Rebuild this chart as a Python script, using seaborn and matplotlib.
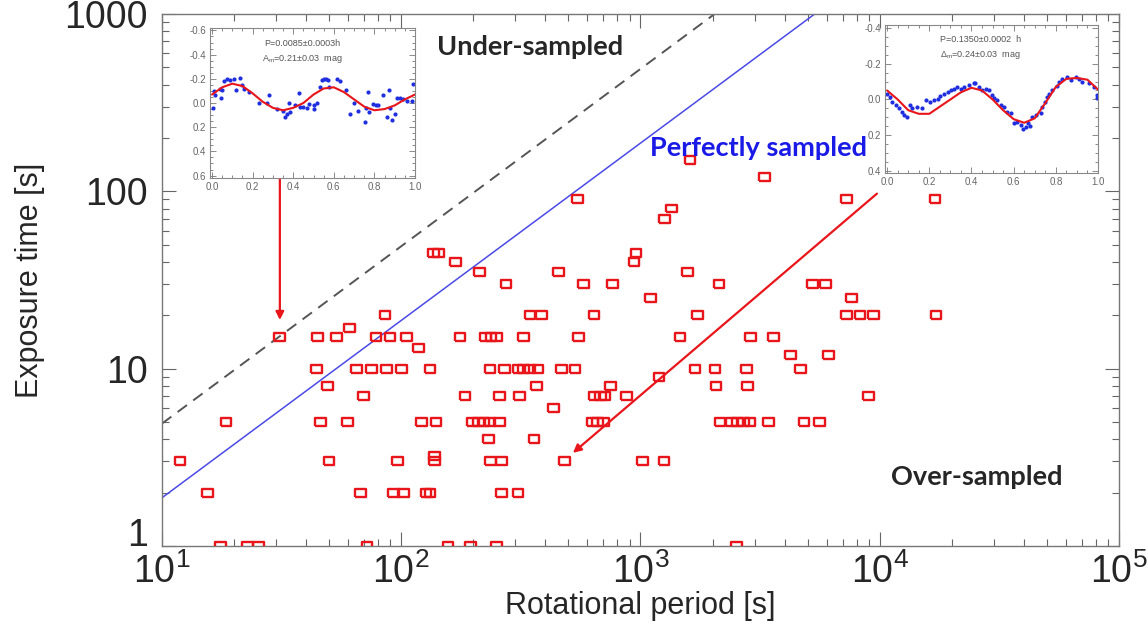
import matplotlib
matplotlib.use("Agg")
import matplotlib.pyplot as plt
from matplotlib.ticker import MultipleLocator
import seaborn as sns
import pandas as pd

# exposure time rows [s] and the rotational periods [s] found on each row
exposure_levels = [1, 2, 3, 3.2, 4, 5, 6, 7, 8, 9, 10, 12, 13, 15, 17, 20,
                   25, 30, 35, 40, 45, 70, 80, 90, 120, 150]
periods_by_level = [
    [17.6, 22.8, 25.3, 72, 157, 195, 250, 2520],
    [15.5, 67.6, 92.7, 102, 127, 132, 262, 308],
    [11.9, 49.9, 96.3, 138, 236, 262, 483, 1019, 1253],
    [138],
    [231, 359],
    [18.5, 46, 59.6, 121.8, 139.7, 198, 210, 222, 235, 257, 630, 660, 700,
     2148, 2400, 2550, 2700, 2870, 3440, 4820, 5585],
    [432],
    [69.4, 184.7, 257, 313, 640, 680, 710, 875, 8950],
    [49.3, 368, 747, 2070, 2800],
    [1194],
    [44.4, 65.2, 75.2, 86.9, 100.3, 131.8, 235, 271, 308, 325, 345, 373,
     469, 533, 1690, 2047, 2775, 4670],
    [4240, 6093],
    [117.9],
    [31.1, 44.6, 53.7, 78.4, 89.7, 105, 176, 225, 237, 250, 324, 550, 1462,
     2884, 3610],
    [60.6],
    [85.5, 345, 386, 640, 1725, 7278, 8260, 9400, 17180],
    [1104, 7621],
    [274, 577, 765, 2128, 5225, 5935],
    [213, 454, 1567],
    [168, 940],
    [136, 143, 957],
    [1256],
    [1349],
    [545, 7278, 17000],
    [3300],
    [1610],
]

# sampling limits: exposure = ratio * period
line_period = [10, 1e5]
nyquist_ratio = 0.49
perfect_ratio = 0.187

# light curves shown in the insets (phase, mag)
lc1_fit_phase = [0.0, 0.05, 0.1, 0.15, 0.2, 0.25, 0.3, 0.35, 0.4, 0.45, 0.5,
                 0.55, 0.6, 0.65, 0.7, 0.75, 0.8, 0.85, 0.9, 0.95, 1.0]
lc1_fit_mag = [-0.07, -0.13, -0.16, -0.14, -0.08, -0.01, 0.04, 0.06, 0.04, 0.0,
               -0.07, -0.12, -0.13, -0.09, -0.03, 0.03, 0.06, 0.05, 0.02, -0.03, -0.07]
lc1_phase = [0.005, 0.008, 0.016, 0.038, 0.044, 0.05, 0.06, 0.074, 0.09, 0.11,
             0.14, 0.12, 0.15, 0.156, 0.18, 0.23, 0.27, 0.28, 0.32, 0.35, 0.36,
             0.37, 0.38, 0.385, 0.41, 0.43, 0.434, 0.45, 0.47, 0.48, 0.5, 0.503,
             0.516, 0.53, 0.54, 0.55, 0.56, 0.57, 0.574, 0.615, 0.63, 0.66, 0.68,
             0.70, 0.72, 0.754, 0.76, 0.77, 0.775, 0.795, 0.81, 0.82, 0.84, 0.86,
             0.87, 0.877, 0.887, 0.90, 0.913, 0.926, 0.94, 0.96, 0.987, 0.99]
lc1_mag = [0.045, -0.10, -0.065, -0.12, -0.04, -0.11, -0.18, -0.20, -0.19, -0.20,
           -0.21, -0.11, -0.15, -0.12, -0.09, 0.0, 0.0, -0.07, 0.05, 0.07, 0.115,
           0.09, 0.0, 0.075, 0.02, -0.08, 0.03, 0.03, 0.045, 0.01, 0.02, 0.05,
           0.0, -0.13, -0.19, -0.20, -0.20, -0.19, -0.13, -0.20, -0.18, -0.11, 0.09,
           0.0, 0.07, 0.16, 0.04, -0.09, 0.075, 0.01, 0.02, 0.02, -0.065, 0.115,
           -0.11, 0.04, 0.14, 0.09, -0.04, -0.04, -0.03, -0.02, -0.02, -0.16]

lc2_fit_phase = [0.0, 0.05, 0.1, 0.15, 0.2, 0.25, 0.3, 0.35, 0.4, 0.45, 0.5,
                 0.55, 0.6, 0.65, 0.7, 0.75, 0.8, 0.85, 0.9, 0.95, 1.0]
lc2_fit_mag = [-0.05, 0.0, 0.06, 0.08, 0.08, 0.04, 0.0, -0.04, -0.065, -0.05, 0.0,
               0.06, 0.11, 0.13, 0.105, 0.02, -0.07, -0.115, -0.12, -0.11, -0.055]
lc2_phase = [0.0, 0.013, 0.024, 0.04, 0.055, 0.071, 0.079, 0.095, 0.108, 0.119,
             0.142, 0.166, 0.182, 0.203, 0.222, 0.241, 0.253, 0.269, 0.288, 0.301,
             0.316, 0.332, 0.348, 0.364, 0.388, 0.411, 0.419, 0.435, 0.451, 0.467,
             0.483, 0.498, 0.506, 0.522, 0.538, 0.554, 0.57, 0.585, 0.601, 0.617,
             0.633, 0.646, 0.657, 0.668, 0.677, 0.688, 0.704, 0.728, 0.736, 0.747,
             0.759, 0.767, 0.783, 0.804, 0.815, 0.831, 0.854, 0.870, 0.894, 0.910,
             0.926, 0.957, 0.981, 0.997, 0.994]
lc2_mag = [-0.033, -0.015, 0.013, 0.032, 0.05, 0.069, 0.087, 0.10, 0.032, 0.05,
           0.041, 0.05, 0.004, 0.013, 0.004, 0.0, -0.019, -0.033, -0.043, -0.052,
           -0.061, -0.067, -0.056, -0.067, -0.08, -0.089, -0.093, -0.067, -0.052,
           -0.056, -0.052, -0.024, -0.006, 0.004, 0.032, 0.041, 0.069, 0.078, 0.134,
           0.125, 0.143, 0.162, 0.153, 0.134, 0.149, 0.097, 0.087, 0.078, 0.041,
           0.013, -0.015, -0.03, -0.052, -0.074, -0.099, -0.112, -0.123, -0.108,
           -0.123, -0.112, -0.099, -0.089, -0.067, -0.024, -0.006]

# annotation arrows (period, exposure): start -> tip
inset_arrow = [(31.1, 119), (31.1, 18.8)]
trend_arrow = [(9730, 97), (522, 3.35)]

RED = "#e8161b"
BLUE_LINE = "#4a4ae6"
DOT_BLUE = "#1f2fe0"

sns.set_style("ticks")
plt.rcParams["font.family"] = ["Liberation Sans", "DejaVu Sans"]
plt.rcParams["mathtext.fontset"] = "custom"
plt.rcParams["mathtext.rm"] = "Liberation Sans"
plt.rcParams["mathtext.it"] = "Liberation Sans:italic"
plt.rcParams["mathtext.default"] = "regular"

rows = []
for level, periods in zip(exposure_levels, periods_by_level):
    for p in periods:
        rows.append({"period": p, "exposure": level})
df = pd.DataFrame(rows)

fig = plt.figure(figsize=(11.47, 6.27), dpi=100)
ax = fig.add_axes([0.1412, 0.1292, 0.8344, 0.8485])

sns.lineplot(x=line_period, y=[nyquist_ratio * p for p in line_period], ax=ax,
             color="#555555", linewidth=1.4, linestyle=(0, (6, 4)))
sns.lineplot(x=line_period, y=[perfect_ratio * p for p in line_period], ax=ax,
             color=BLUE_LINE, linewidth=1.1)

rect = [(-1.35, -1), (1.35, -1), (1.35, 1), (-1.35, 1), (-1.35, -1)]
sns.scatterplot(data=df, x="period", y="exposure", ax=ax, marker=rect, s=60,
                color=RED, edgecolor=RED, linewidth=1.7, zorder=3)
ax.collections[-1].set_facecolor("none")

ax.set(xscale="log", yscale="log", xlim=(10, 1e5), ylim=(1, 1000))
ax.set_xticks([10, 100, 1e3, 1e4, 1e5])
ax.set_xticklabels(["$10^1$", "$10^2$", "$10^3$", "$10^4$", "$10^5$"])
ax.set_yticks([1, 10, 100, 1000])
ax.set_yticklabels(["1", "10", "100", "1000"])
ax.tick_params(which="both", direction="in", top=True, right=True,
               color="#666666", labelsize=27, width=0.8)
ax.tick_params(which="major", length=10, pad=10)
ax.tick_params(axis="x", which="major", pad=5)
ax.tick_params(which="minor", length=5)
ax.get_yticklabels()[0].set_verticalalignment("baseline")
for s in ax.spines.values():
    s.set_color("#777777")
    s.set_linewidth(1)
ax.set_xlabel("Rotational period [s]", fontsize=22, labelpad=0)
ax.set_ylabel("Exposure time [s]", fontsize=22, labelpad=14)

for arrow in (inset_arrow, trend_arrow):
    ax.annotate("", xy=arrow[1], xytext=arrow[0],
                arrowprops=dict(arrowstyle="-|>", color=RED, lw=1.6,
                                mutation_scale=12, shrinkA=0, shrinkB=0))

label_font = dict(fontsize=19.5, fontweight="bold", family=["Lato", "DejaVu Sans"])
ax.text(141, 652, "Under-sampled", ha="left", va="center", **label_font)
ax.text(8850, 176, "Perfectly sampled", color="#1a1ae6", ha="right",
        va="center", **label_font)
ax.text(25470, 2.45, "Over-sampled", ha="center", va="center", **label_font)


def light_curve_inset(rect_fig, phase, mag, fit_phase, fit_mag, ylim, lines):
    ins = fig.add_axes(rect_fig)
    sns.scatterplot(x=phase, y=mag, ax=ins, color=DOT_BLUE, s=9,
                    edgecolor=DOT_BLUE, linewidth=0, zorder=2)
    sns.lineplot(x=fit_phase, y=fit_mag, ax=ins, color=RED, linewidth=1.5,
                 zorder=3, sort=False)
    ins.set_xlim(-0.01, 1.0)
    ins.set_ylim(*ylim)
    ins.xaxis.set_major_locator(MultipleLocator(0.2))
    ins.xaxis.set_minor_locator(MultipleLocator(0.05))
    ins.yaxis.set_major_locator(MultipleLocator(0.2))
    ins.yaxis.set_minor_locator(MultipleLocator(0.05))
    ins.tick_params(which="both", direction="in", top=True, right=True,
                    color="#777777", labelcolor="#666666", labelsize=7, width=0.6)
    ins.tick_params(which="major", length=4, pad=3)
    ins.tick_params(which="minor", length=2)
    ins.xaxis.set_major_formatter(plt.FormatStrFormatter("%.1f"))
    ins.yaxis.set_major_formatter(plt.FormatStrFormatter("%.1f"))
    for s in ins.spines.values():
        s.set_color("#888888")
        s.set_linewidth(0.8)
    ins.text(0.45, 0.9, lines[0], transform=ins.transAxes, fontsize=6.5,
             color="#555555", ha="center", va="center")
    ins.text(0.45, 0.8, lines[1], transform=ins.transAxes, fontsize=6.5,
             color="#555555", ha="center", va="center")
    return ins


light_curve_inset([0.1831, 0.7161, 0.1787, 0.2392], lc1_phase, lc1_mag,
                  lc1_fit_phase, lc1_fit_mag, (0.62, -0.62),
                  ["P=0.0085±0.0003h", "A$_m$=0.21±0.03  mag"])
light_curve_inset([0.7716, 0.7241, 0.1857, 0.2360], lc2_phase, lc2_mag,
                  lc2_fit_phase, lc2_fit_mag, (0.41, -0.415),
                  ["P=0.1350±0.0002  h", "Δ$_m$=0.24±0.03  mag"])

fig.savefig("out.png", dpi=100)
